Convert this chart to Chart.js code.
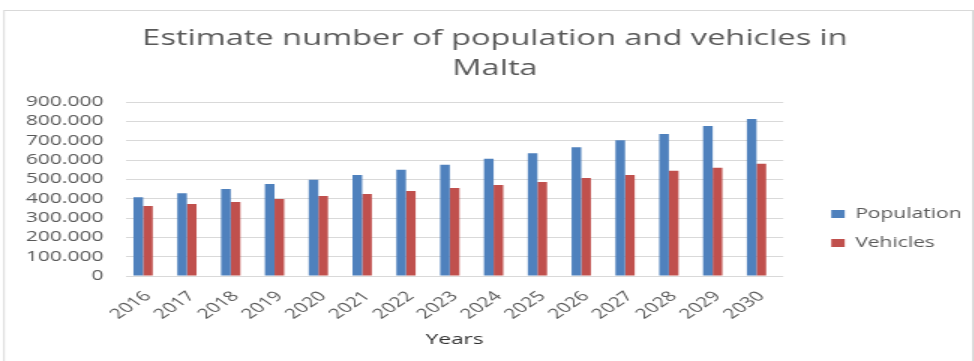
<!DOCTYPE html>
<html>
<head>
<meta charset="utf-8">
<script src="https://cdn.jsdelivr.net/npm/chart.js@4/dist/chart.umd.min.js"></script>
<style>
  html, body { margin: 0; padding: 0; background: #fff; overflow: hidden; }
  #wrap { width: 649px; height: 361px; transform: scaleX(1.5); transform-origin: 0 0; }
  canvas { display: block; }
</style>
</head>
<body>
<div id="wrap"><canvas id="c" width="649" height="361"></canvas></div>
<script>
const years = ['2016','2017','2018','2019','2020','2021','2022','2023','2024','2025','2026','2027','2028','2029','2030'];
const population = [407000, 428000, 450000, 476000, 498000, 522000, 550000, 576000, 607000, 635000, 666000, 702000, 735000, 776000, 812000];
const vehicles = [362000, 372000, 383000, 398000, 414000, 424000, 440000, 455000, 471000, 486000, 507000, 522000, 545000, 560000, 581000];
// the original chart reserves a slot for a third, empty series (bars sit left of centre)
const emptySeries = [];
const seriesNames = ['Population', 'Vehicles'];
const titleLines = ['Estimate number of population and vehicles in', 'Malta'];
const xTitle = 'Years';

const FONT = "'Open Sans', 'Liberation Sans', sans-serif";
const TXT = '#595959';

const framePlugin = {
  id: 'frame',
  beforeDraw(chart) {
    const ctx = chart.ctx;
    ctx.save();
    ctx.strokeStyle = '#d9d9d9';
    ctx.lineWidth = 1;
    ctx.strokeRect(2.7, 10.5, 645.8, 360);
    ctx.restore();
  }
};
const shiftPlugin = {
  id: 'shift',
  afterLayout(chart) {
    const l = chart.legend;
    if (l) { l.left += 17; l.right += 17; l.top += 43; l.bottom += 43; }
    const t = chart.titleBlock;
    if (t) { t.left += 8; t.right += 8; t.top += 1; t.bottom += 1; }
  }
};

new Chart(document.getElementById('c'), {
  type: 'bar',
  data: {
    labels: years,
    datasets: [
      { label: seriesNames[0], data: population, backgroundColor: '#4F81BD' },
      { label: seriesNames[1], data: vehicles, backgroundColor: '#C0504D' },
      { label: '', data: emptySeries, backgroundColor: 'rgba(0,0,0,0)' }
    ]
  },
  options: {
    responsive: false,
    animation: false,
    devicePixelRatio: 1,
    layout: { padding: { top: 10, left: 10, right: 15, bottom: 0 } },
    datasets: { bar: { categoryPercentage: 0.66, barPercentage: 1.0 } },
    plugins: {
      title: {
        display: true,
        text: titleLines,
        color: TXT,
        font: { family: FONT, size: 21.7, weight: 'normal', lineHeight: '30px' },
        padding: { top: 13, bottom: 19 }
      },
      legend: {
        position: 'right',
        align: 'center',
        labels: {
          color: TXT,
          font: { family: FONT, size: 14 },
          boxWidth: 9,
          boxHeight: 8,
          padding: 15,
          filter: item => item.text !== ''
        }
      },
      tooltip: { enabled: false }
    },
    scales: {
      x: {
        grid: { display: false },
        border: { display: false },
        ticks: {
          color: TXT,
          font: { family: FONT, size: 14 },
          minRotation: 45,
          maxRotation: 45,
          padding: 4
        },
        title: {
          display: true,
          text: xTitle,
          color: '#303030',
          font: { family: FONT, size: 15, weight: '500' },
          padding: { top: 0, bottom: 12 }
        },
        afterFit(scale) { scale.height = 85; }
      },
      y: {
        min: 0,
        max: 900000,
        grid: { color: '#d9d9d9', drawTicks: false },
        border: { display: false },
        ticks: {
          stepSize: 100000,
          autoSkip: false,
          color: TXT,
          font: { family: FONT, size: 14 },
          padding: 15,
          callback: v => String(v).replace(/\B(?=(\d{3})+(?!\d))/g, '.')
        },
        afterFit(scale) { scale.width = 74; }
      }
    }
  },
  plugins: [framePlugin, shiftPlugin]
});
</script>
</body>
</html>
